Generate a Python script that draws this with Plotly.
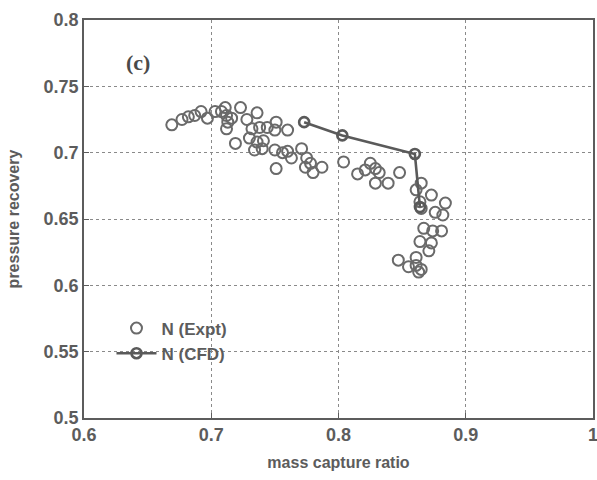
import plotly.graph_objects as go

# Experimental data: mass capture ratio / pressure recovery
expt_x = [0.669, 0.677, 0.682, 0.687, 0.692, 0.697, 0.703, 0.711, 0.712, 0.713,
          0.712, 0.723, 0.719, 0.728, 0.736, 0.732, 0.738, 0.730, 0.736, 0.734,
          0.744, 0.708, 0.716, 0.741, 0.740, 0.751, 0.750, 0.760, 0.750, 0.756,
          0.760, 0.763, 0.751, 0.771, 0.775, 0.774, 0.778, 0.780, 0.787, 0.804,
          0.815, 0.821, 0.825, 0.829, 0.832, 0.829, 0.839, 0.848, 0.865, 0.861,
          0.873, 0.864, 0.865, 0.884, 0.876, 0.882, 0.867, 0.874, 0.881, 0.864,
          0.873, 0.871, 0.847, 0.855, 0.861, 0.861, 0.865, 0.863]
expt_y = [0.721, 0.725, 0.727, 0.728, 0.731, 0.726, 0.731, 0.734, 0.728, 0.723,
          0.718, 0.734, 0.707, 0.725, 0.730, 0.718, 0.719, 0.711, 0.708, 0.702,
          0.719, 0.731, 0.726, 0.709, 0.703, 0.723, 0.717, 0.717, 0.702, 0.700,
          0.701, 0.696, 0.688, 0.703, 0.696, 0.689, 0.692, 0.685, 0.689, 0.693,
          0.684, 0.687, 0.692, 0.688, 0.685, 0.677, 0.677, 0.685, 0.677, 0.672,
          0.668, 0.663, 0.658, 0.662, 0.655, 0.653, 0.643, 0.641, 0.641, 0.633,
          0.632, 0.626, 0.619, 0.614, 0.621, 0.615, 0.612, 0.610]

# CFD data
cfd_x = [0.773, 0.803, 0.860, 0.864]
cfd_y = [0.723, 0.713, 0.699, 0.659]

x_ticks = [0.6, 0.7, 0.8, 0.9, 1.0]
x_tick_labels = ["0.6", "0.7", "0.8", "0.9", "1"]
y_ticks = [0.5, 0.55, 0.6, 0.65, 0.7, 0.75, 0.8]
y_tick_labels = ["0.5", "0.55", "0.6", "0.65", "0.7", "0.75", "0.8"]

ink = "#5c5c5c"
font_family = "Liberation Sans, Arial, sans-serif"

fig = go.Figure()
fig.add_trace(go.Scatter(
    x=expt_x, y=expt_y, mode="markers", name="N (Expt)",
    marker=dict(symbol="circle-open", size=11, color="#6a6a6a",
                line=dict(width=2, color="#6a6a6a")),
))
fig.add_trace(go.Scatter(
    x=cfd_x, y=cfd_y, mode="lines+markers", name="N (CFD)",
    line=dict(color="#5a5a5a", width=2.6),
    marker=dict(symbol="circle-open", size=10, color="#5a5a5a",
                line=dict(width=2.6, color="#5a5a5a")),
))

fig.add_annotation(
    x=0.6425, y=0.768, xref="x", yref="y", text="<b>(c)</b>", showarrow=False,
    font=dict(family="Liberation Serif, Times New Roman, serif", size=22, color="#4a4a4a"),
    xanchor="center", yanchor="middle",
)

axis_common = dict(
    showline=True, linecolor=ink, linewidth=1.5, mirror=True,
    ticks="inside", ticklen=5, tickcolor=ink, tickwidth=1,
    showgrid=True, gridcolor="#8a8a8a", gridwidth=1, griddash="dot",
    zeroline=False, automargin=False, ticklabeloverflow="allow",
    tickfont=dict(family=font_family, size=18, color=ink, weight="bold"),
)

fig.update_xaxes(
    range=[0.6, 1.0], tickvals=x_ticks, ticktext=x_tick_labels,
    title=dict(text="mass capture ratio",
               font=dict(family=font_family, size=16, color=ink, weight="bold"),
               standoff=12),
    **axis_common,
)
fig.update_yaxes(
    range=[0.5, 0.8], tickvals=y_ticks, ticktext=y_tick_labels,
    title=dict(text="pressure recovery",
               font=dict(family=font_family, size=16, color=ink, weight="bold"),
               standoff=20),
    **axis_common,
)

fig.update_layout(
    width=597, height=480,
    margin=dict(l=84, r=4, t=20, b=62),
    paper_bgcolor="white", plot_bgcolor="white",
    showlegend=True,
    legend=dict(
        x=0.054, y=0.27, xanchor="left", yanchor="top",
        bgcolor="rgba(0,0,0,0)", borderwidth=0,
        font=dict(family=font_family, size=17, color=ink, weight="bold"),
        itemwidth=40, tracegroupgap=2,
    ),
)

fig.write_html("out.html")
